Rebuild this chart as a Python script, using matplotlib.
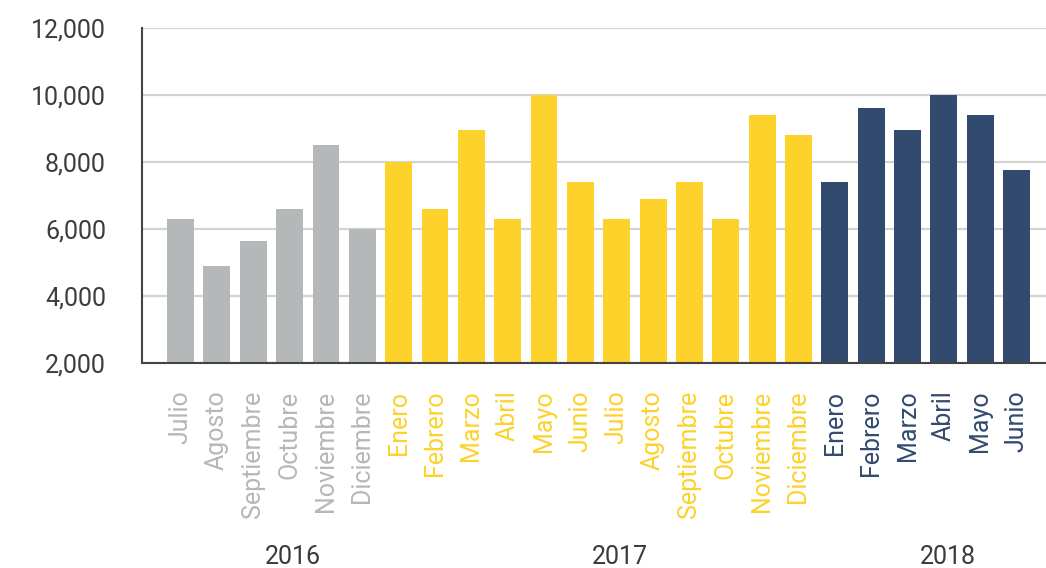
import matplotlib.pyplot as plt
from matplotlib.ticker import FuncFormatter
import numpy as np

plt.rcParams['font.family'] = ['Roboto', 'DejaVu Sans']

# data
months = ['Julio', 'Agosto', 'Septiembre', 'Octubre', 'Noviembre', 'Diciembre',
          'Enero', 'Febrero', 'Marzo', 'Abril', 'Mayo', 'Junio',
          'Julio', 'Agosto', 'Septiembre', 'Octubre', 'Noviembre', 'Diciembre',
          'Enero', 'Febrero', 'Marzo', 'Abril', 'Mayo', 'Junio']
values = [6300, 4900, 5650, 6600, 8500, 6000,
          8000, 6600, 8950, 6300, 10000, 7400,
          6300, 6900, 7400, 6300, 9400, 8800,
          7400, 9600, 8950, 10000, 9400, 7750]
years = ['2016', '2017', '2018']
year_sizes = [6, 12, 6]
year_colors = ['#b5b8b9', '#fdd22b', '#324a6e']

fig = plt.figure(figsize=(10.46, 5.68), dpi=100)
ax = fig.add_axes([0.1358, 0.361, 0.8642, 0.5897])

x = np.arange(len(values))
colors = []
for c, n in zip(year_colors, year_sizes):
    colors += [c] * n

ax.bar(x, values, width=0.74, color=colors, zorder=2)

ax.set_ylim(2000, 12000)
ax.set_xlim(-1.06, 23.81)
ax.set_yticks(range(2000, 12001, 2000))
ax.yaxis.set_major_formatter(FuncFormatter(lambda v, p: f'{int(v):,}'))
ax.grid(axis='y', color='#d3d3d3', linewidth=1.6, zorder=0)

for s in ['top', 'right']:
    ax.spines[s].set_visible(False)
for s in ['left', 'bottom']:
    ax.spines[s].set_color('#444444')
    ax.spines[s].set_linewidth(1.5)
    ax.spines[s].set_zorder(3)

ax.tick_params(axis='y', length=0, pad=26, labelsize=18, labelcolor='#3d3d3d')
ax.set_xticks(x)
ax.set_xticklabels(months, rotation=90, fontsize=18, va='top', ha='center')
ax.tick_params(axis='x', length=0, pad=20)
for lbl, c in zip(ax.get_xticklabels(), colors):
    lbl.set_color(c)

# year labels under each group
start = 0
for yr, n in zip(years, year_sizes):
    cx = start + (n - 1) / 2 + 0.6
    ax.text(cx, -0.58, yr, transform=ax.get_xaxis_transform(),
            ha='center', va='center', fontsize=18, color='#3a3a3a')
    start += n

fig.savefig('out.png', dpi=100)
